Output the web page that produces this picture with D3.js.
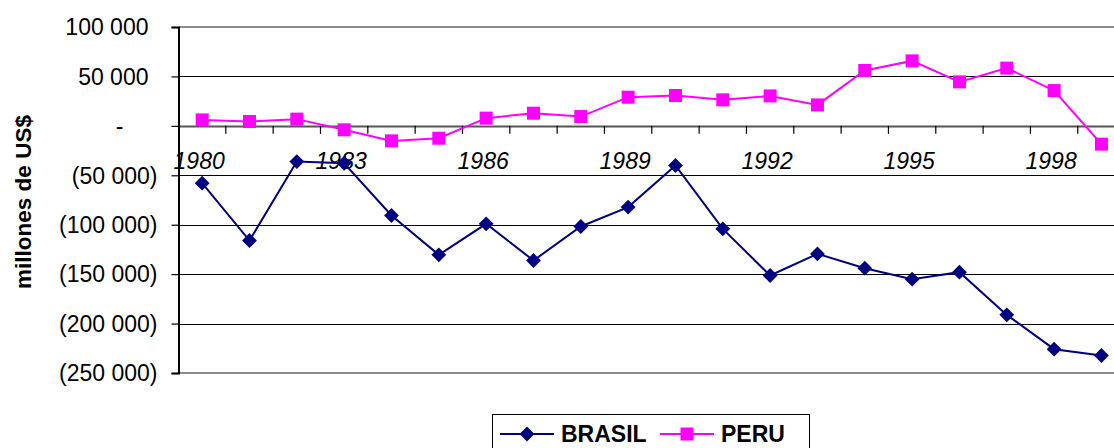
<!DOCTYPE html>
<html>
<head>
<meta charset="utf-8">
<script src="https://cdn.jsdelivr.net/npm/d3@7"></script>
<style>
  html, body { margin: 0; padding: 0; background: #fff; overflow: hidden; }
  svg { display: block; font-family: "Liberation Sans", Arial, sans-serif; }
</style>
</head>
<body>
<svg id="chart" width="1114" height="448"></svg>
<script>
const years = ["1980","1981","1982","1983","1984","1985","1986","1987","1988","1989",
               "1990","1991","1992","1993","1994","1995","1996","1997","1998","1999"];
const brasil = [-58000,-116000,-36100,-37800,-90700,-130500,-99100,-136200,-101800,-82200,
                -40100,-104200,-151400,-129500,-144000,-155100,-148000,-191200,-225900,-232300];
const peru = [6000,4400,6800,-4000,-15200,-12500,7800,12800,9400,29000,
              30700,26300,30300,21200,56000,65700,44500,58400,35700,-18500];
const yTicks = [100000,50000,0,-50000,-100000,-150000,-200000,-250000];
const xLabelYears = ["1980","1983","1986","1989","1992","1995","1998"];
const seriesNames = ["BRASIL","PERU"];

const svg = d3.select("#chart");
const plotLeft = 178.5, plotTop = 27, plotBottom = 373;
const bandW = 47.33;
const plotRight = plotLeft + bandW * years.length;

const x = d3.scaleBand().domain(years).range([plotLeft, plotRight]).padding(0);
const y = d3.scaleLinear().domain([-250000, 100000]).range([plotBottom, plotTop]);

const fmt = v => {
  if (v === 0) return "-";
  const s = d3.format(",")(Math.abs(v)).replace(/,/g, " ");
  return v < 0 ? "(" + s + ")" : s;
};

// gridlines
svg.append("g").selectAll("line").data(yTicks.filter(v => v !== 100000 && v !== -250000))
  .join("line")
  .attr("x1", plotLeft).attr("x2", 1114)
  .attr("y1", d => Math.round(y(d)) + 0.5).attr("y2", d => Math.round(y(d)) + 0.5)
  .attr("stroke", d => d === 0 ? "#555" : "#000").attr("stroke-width", d => d === 0 ? 2 : 1);

// plot border (top & bottom grey)
svg.append("line").attr("x1", plotLeft).attr("x2", 1114).attr("y1", y(100000)).attr("y2", y(100000))
  .attr("stroke", "#8c8c8c").attr("stroke-width", 2);
svg.append("line").attr("x1", plotLeft).attr("x2", 1114).attr("y1", y(-250000)).attr("y2", y(-250000))
  .attr("stroke", "#8c8c8c").attr("stroke-width", 2);

// y axis
const yAxis = d3.axisLeft(y).tickValues(yTicks).tickFormat(fmt).tickSize(7).tickPadding(0);
const gy = svg.append("g").attr("transform", `translate(${plotLeft},0)`).call(yAxis);
gy.select(".domain").attr("stroke", "#000").attr("stroke-width", 2);
gy.selectAll(".tick line").attr("stroke", "#000").attr("stroke-width", 1.2);
gy.selectAll(".tick text")
  .attr("font-size", 23).attr("fill", "#000")
  .attr("font-family", "Liberation Sans, Arial, sans-serif")
  .attr("x", d => d > 0 ? -30 : (d === 0 ? -55 : -21))
  .attr("dy", "0.34em");

// x axis ticks at zero line
const gx = svg.append("g").attr("transform", `translate(0,${y(0)})`);
gx.selectAll("line.tk").data(years.slice(1))
  .join("line").attr("class", "tk")
  .attr("x1", d => x(d)).attr("x2", d => x(d))
  .attr("y1", 0).attr("y2", 8).attr("stroke", "#000").attr("stroke-width", 1.2);
gx.selectAll("text").data(xLabelYears).join("text")
  .attr("x", d => x(d) + x.bandwidth() / 2 - 3)
  .attr("y", 43)
  .attr("text-anchor", "middle")
  .attr("font-size", 23).attr("font-style", "italic")
  .attr("fill", "#000")
  .text(d => d);

// y title
svg.append("text")
  .attr("transform", `translate(31,202) rotate(-90)`)
  .attr("text-anchor", "middle")
  .attr("font-size", 22.5).attr("font-weight", "bold")
  .text("millones de US$");

const cx = d => x(d) + x.bandwidth() / 2;
const line = d3.line().x((d, i) => cx(years[i])).y(d => y(d));

// PERU
svg.append("path").datum(peru).attr("d", line)
  .attr("fill", "none").attr("stroke", "#ff00ff").attr("stroke-width", 2);
svg.append("g").selectAll("rect").data(peru).join("rect")
  .attr("x", (d, i) => cx(years[i]) - 6.5).attr("y", d => y(d) - 6.5)
  .attr("width", 13).attr("height", 13).attr("fill", "#ff00ff");

// BRASIL
svg.append("path").datum(brasil).attr("d", line)
  .attr("fill", "none").attr("stroke", "#000080").attr("stroke-width", 2);
const diamond = d3.symbol().type(d3.symbolDiamond2).size(140);
svg.append("g").selectAll("path").data(brasil).join("path")
  .attr("d", diamond)
  .attr("transform", (d, i) => `translate(${cx(years[i])},${y(d)})`)
  .attr("fill", "#000080");

// legend
const lg = svg.append("g");
lg.append("rect").attr("x", 492.5).attr("y", 414.5).attr("width", 317).attr("height", 60)
  .attr("fill", "#fff").attr("stroke", "#000").attr("stroke-width", 1);
lg.append("line").attr("x1", 500).attr("x2", 554).attr("y1", 434).attr("y2", 434)
  .attr("stroke", "#000080").attr("stroke-width", 2);
lg.append("path").attr("d", diamond).attr("transform", "translate(527,434)").attr("fill", "#000080");
lg.append("text").attr("x", 561).attr("y", 442).attr("font-size", 23).attr("font-weight", "bold")
  .text(seriesNames[0]);
lg.append("line").attr("x1", 660).attr("x2", 714).attr("y1", 434).attr("y2", 434)
  .attr("stroke", "#ff00ff").attr("stroke-width", 2);
lg.append("rect").attr("x", 680.5).attr("y", 427.5).attr("width", 13).attr("height", 13).attr("fill", "#ff00ff");
lg.append("text").attr("x", 721).attr("y", 442).attr("font-size", 23).attr("font-weight", "bold")
  .text(seriesNames[1]);
</script>
</body>
</html>
